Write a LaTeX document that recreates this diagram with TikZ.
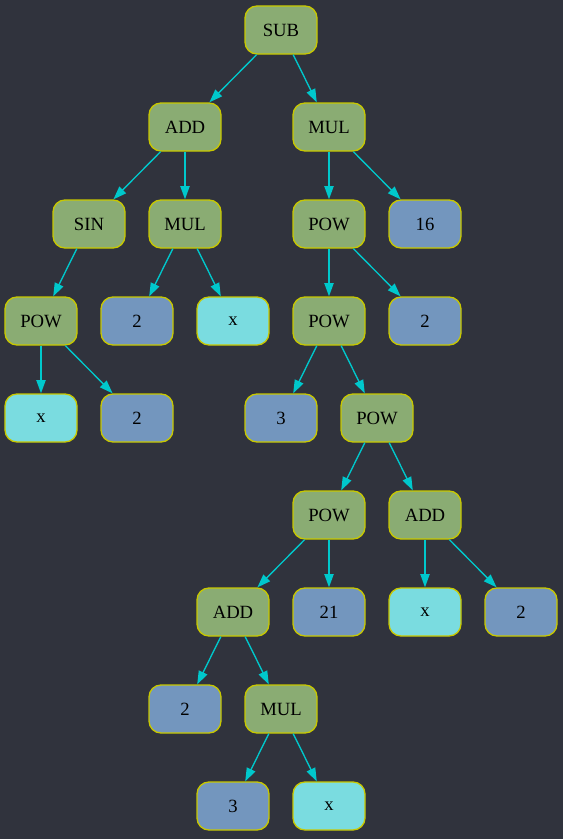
\documentclass[tikz,border=0pt]{standalone}
\usepackage{fontspec}
\setmainfont{Liberation Serif}
\usetikzlibrary{arrows.meta}
\definecolor{bg}{HTML}{30333D}
\definecolor{opgreen}{HTML}{8AAC73}
\definecolor{numblue}{HTML}{7396BE}
\definecolor{varcyan}{HTML}{7ADCE0}
\definecolor{rim}{HTML}{C8C800}
\definecolor{wire}{HTML}{00C8CC}
\tikzset{
  base/.style={draw=rim, line width=1.33bp, rounded corners=12bp,
    minimum width=72bp, minimum height=48bp, inner sep=0pt,
    font=\fontsize{18.67bp}{21bp}\selectfont, text=black},
  op/.style={base, fill=opgreen},
  num/.style={base, fill=numblue},
  var/.style={base, fill=varcyan},
  edge/.style={draw=wire, line width=1.33bp,
    -{Triangle[length=13.3bp, width=9.3bp]}, fill=wire}
}
\begin{document}
\begin{tikzpicture}[x=1bp, y=-1bp]
  \fill[bg] (0,0) rectangle (563,839);
  \useasboundingbox (0,0) rectangle (563,839);

  % operators
  \node[op] (sub)   at (281,30)  {SUB};
  \node[op] (add1)  at (185,127) {ADD};
  \node[op] (mul1)  at (329,127) {MUL};
  \node[op] (sin)   at (89,224)  {SIN};
  \node[op] (mul2)  at (185,224) {MUL};
  \node[op] (pow1)  at (329,224) {POW};
  \node[op] (pow2)  at (41,321)  {POW};
  \node[op] (pow3)  at (329,321) {POW};
  \node[op] (pow4)  at (377,418) {POW};
  \node[op] (pow5)  at (329,515) {POW};
  \node[op] (add2)  at (425,515) {ADD};
  \node[op] (add3)  at (233,612) {ADD};
  \node[op] (mul3)  at (281,709) {MUL};

  % constants
  \node[num] (n16)  at (425,224) {16};
  \node[num] (n2a)  at (137,321) {2};
  \node[num] (n2b)  at (425,321) {2};
  \node[num] (n2c)  at (137,418) {2};
  \node[num] (n3a)  at (281,418) {3};
  \node[num] (n21)  at (329,612) {21};
  \node[num] (n2d)  at (521,612) {2};
  \node[num] (n2e)  at (185,709) {2};
  \node[num] (n3b)  at (233,806) {3};

  % variables
  \node[var] (xa)   at (233,321) {x};
  \node[var] (xb)   at (41,418)  {x};
  \node[var] (xc)   at (425,612) {x};
  \node[var] (xd)   at (329,806) {x};

  % edges
  \path[edge] (sub) -- (add1);
  \path[edge] (sub) -- (mul1);
  \path[edge] (add1) -- (sin);
  \path[edge] (add1) -- (mul2);
  \path[edge] (sin) -- (pow2);
  \path[edge] (pow2) -- (xb);
  \path[edge] (pow2) -- (n2c);
  \path[edge] (mul2) -- (n2a);
  \path[edge] (mul2) -- (xa);
  \path[edge] (mul1) -- (pow1);
  \path[edge] (mul1) -- (n16);
  \path[edge] (pow1) -- (pow3);
  \path[edge] (pow1) -- (n2b);
  \path[edge] (pow3) -- (n3a);
  \path[edge] (pow3) -- (pow4);
  \path[edge] (pow4) -- (pow5);
  \path[edge] (pow4) -- (add2);
  \path[edge] (pow5) -- (add3);
  \path[edge] (pow5) -- (n21);
  \path[edge] (add2) -- (xc);
  \path[edge] (add2) -- (n2d);
  \path[edge] (add3) -- (n2e);
  \path[edge] (add3) -- (mul3);
  \path[edge] (mul3) -- (n3b);
  \path[edge] (mul3) -- (xd);
\end{tikzpicture}
\end{document}
